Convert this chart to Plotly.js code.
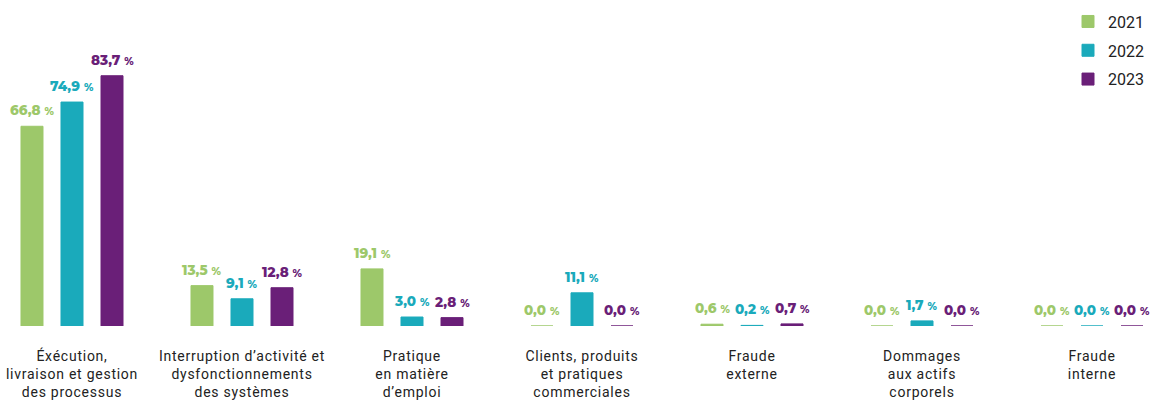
<!DOCTYPE html>
<html>
<head>
<meta charset="utf-8">
<script src="https://cdn.plot.ly/plotly-3.0.1.min.js"></script>
<style>
  html, body { margin: 0; padding: 0; background: #fff; }
  #chart { width: 1160px; height: 400px; }
  /* the reference's axis labels are set a little wider than plain Roboto */
  #chart .xtick text { letter-spacing: 0.75px; }
</style>
</head>
<body>
<div id="chart"></div>
<script>
'use strict'

// categories (the <br> splits match the picture)
var categories = [
    "Éxécution,<br>livraison et gestion<br>des processus",
    "Interruption d’activité et<br>dysfonctionnements<br>des systèmes",
    "Pratique<br>en matière<br>d’emploi",
    "Clients, produits<br>et pratiques<br>commerciales",
    "Fraude<br>externe",
    "Dommages<br>aux actifs<br>corporels",
    "Fraude<br>interne"
];

var years = ["2021", "2022", "2023"];
var colors = ["#9dc86a", "#1aaabb", "#6a1f78"];

var v2021 = [66.8, 13.5, 19.1, 0.0, 0.6, 0.0, 0.0];
var v2022 = [74.9, 9.1, 3.0, 11.1, 0.2, 1.7, 0.0];
var v2023 = [83.7, 12.8, 2.8, 0.0, 0.7, 0.0, 0.0];

var series = [v2021, v2022, v2023];

function pctLabel(v){
    return v.toFixed(1).replace(".", ",") + " <span style='font-size:10.5px'>%</span>";
}

var xs = categories.map(function(c, i){ return i; });
var data = [];
var notes = [];
for (var s = 0; s < series.length; s++) {
    data.push({
        type: 'bar',
        name: years[s],
        x: xs,
        y: series[s],
        marker: { color: colors[s], line: { color: colors[s], width: 1 } },
        legendgroup: years[s],
        hoverinfo: 'none'
    });
    // value labels, nudged over their own bar in the group
    for (var i = 0; i < xs.length; i++) {
        notes.push({
            x: xs[i],
            y: series[s][i],
            xref: 'x', yref: 'y',
            text: pctLabel(series[s][i]),
            showarrow: false,
            xanchor: 'center',
            yanchor: 'bottom',
            xshift: (s - 1) * 40,
            yshift: 6,
            font: { family: "Montserrat, 'Open Sans', sans-serif", size: 13.5, color: colors[s], weight: 800 }
        });
    }
}

var layout = {
    width: 1160,
    height: 400,
    margin: { l: 0, r: 0, t: 27, b: 74 },
    paper_bgcolor: "#fff",
    plot_bgcolor: "#fff",
    barmode: 'group',
    bargap: 0.294,
    bargroupgap: 0.45,
    showlegend: true,
    legend: {
        x: 1068 / 1160, y: 1.075, xanchor: 'left', yanchor: 'top',
        font: { family: "Roboto, sans-serif", size: 16, color: "#222" },
        tracegroupgap: 5,
        traceorder: 'grouped'
    },
    annotations: notes,
    font: { family: "Roboto, sans-serif", color: "#222" },
    xaxis: {
        type: 'linear',
        range: [-0.4235, 6.4],
        tickvals: xs,
        ticktext: categories,
        tickfont: { family: "Roboto, sans-serif", size: 14, color: "#222" },
        ticks: '',
        ticklabelstandoff: 20,
        showgrid: false,
        zeroline: false,
        showline: false,
        fixedrange: true
    },
    yaxis: {
        range: [0, 100],
        visible: false,
        showgrid: false,
        zeroline: false,
        fixedrange: true
    }
};

Plotly.newPlot('chart', data, layout, { displayModeBar: false, staticPlot: true });
</script>
</body>
</html>
